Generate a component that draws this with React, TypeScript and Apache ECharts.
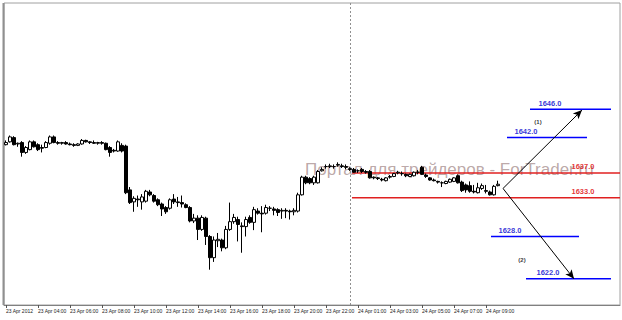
import React, { useEffect, useRef } from "react";
import * as echarts from "echarts";

// Candles: [open, high, low, close], M15 bars
const candles: number[][] = [
  [1641.0,1641.6,1640.9,1641.3],[1641.4,1642.3,1641.3,1642.1],[1642.0,1642.2,1640.9,1641.0],[1641.1,1641.3,1640.7,1641.2],
  [1641.3,1641.5,1639.3,1639.9],[1639.9,1640.8,1639.7,1640.6],[1640.3,1641.6,1640.2,1641.4],[1641.4,1641.6,1640.6,1640.7],
  [1641.0,1641.2,1640.1,1640.3],[1640.6,1641.0,1639.9,1640.5],[1640.6,1641.5,1640.5,1641.3],[1641.2,1642.3,1641.0,1642.1],
  [1642.1,1642.3,1641.2,1641.3],[1641.3,1641.5,1641.0,1641.2],[1641.2,1641.4,1641.0,1641.3],[1641.3,1641.5,1641.0,1641.1],
  [1641.1,1641.3,1640.9,1641.0],[1641.0,1641.2,1640.7,1640.9],[1640.9,1641.2,1640.8,1641.1],[1641.1,1641.8,1641.0,1641.6],
  [1641.6,1641.7,1641.3,1641.4],[1641.4,1641.5,1641.1,1641.3],[1641.3,1641.6,1641.1,1641.2],[1641.2,1641.4,1641.0,1641.3],
  [1641.3,1641.5,1641.0,1641.2],[1641.2,1641.3,1640.2,1640.3],[1640.6,1640.8,1639.3,1639.9],[1640.2,1640.4,1639.9,1640.1],
  [1640.1,1641.6,1640.0,1641.4],[1640.9,1641.2,1639.9,1640.1],[1640.8,1641.0,1634.0,1634.2],[1634.6,1635.0,1632.6,1632.8],
  [1632.9,1633.7,1631.5,1633.4],[1633.3,1633.8,1632.2,1633.2],[1632.9,1634.0,1631.8,1633.6],[1633.0,1634.6,1632.8,1634.4],
  [1634.3,1634.6,1633.7,1633.9],[1633.8,1634.0,1632.8,1633.0],[1633.2,1633.4,1632.3,1632.5],[1632.6,1632.8,1630.9,1631.9],
  [1632.1,1632.3,1631.2,1631.5],[1632.0,1633.4,1631.8,1633.2],[1633.3,1634.0,1632.6,1632.9],[1632.9,1633.6,1632.2,1632.8],
  [1632.8,1633.8,1632.1,1632.6],[1632.5,1632.7,1632.0,1632.1],[1632.1,1632.3,1630.0,1630.2],[1630.2,1631.2,1629.9,1630.6],
  [1630.6,1631.0,1627.5,1629.0],[1629.0,1631.0,1628.8,1630.7],[1630.6,1630.8,1626.8,1628.0],[1628.0,1628.2,1623.3,1625.0],
  [1625.0,1628.0,1624.4,1627.5],[1627.4,1628.5,1626.5,1627.6],[1627.5,1627.7,1625.9,1626.4],[1626.4,1629.5,1626.2,1629.0],
  [1629.0,1632.8,1628.8,1630.1],[1630.1,1631.2,1629.8,1630.7],[1630.4,1630.8,1627.3,1629.7],[1629.5,1630.0,1625.7,1629.4],
  [1629.4,1630.8,1628.0,1630.4],[1630.7,1631.0,1629.8,1630.0],[1630.0,1632.2,1628.9,1631.8],[1631.6,1632.0,1631.1,1631.3],
  [1631.3,1632.3,1628.6,1631.2],[1631.3,1632.5,1631.1,1632.1],[1632.0,1632.3,1631.6,1632.0],[1631.9,1632.2,1631.0,1631.7],
  [1631.8,1632.0,1630.9,1631.4],[1631.6,1632.0,1630.5,1631.7],[1631.7,1632.0,1630.6,1631.6],[1631.6,1631.8,1630.4,1631.5],
  [1631.5,1632.0,1631.0,1631.7],[1631.6,1634.2,1631.4,1633.9],[1633.9,1636.6,1633.8,1636.4],[1636.4,1636.6,1635.4,1635.6],
  [1636.2,1636.4,1635.4,1635.6],[1635.6,1636.6,1635.3,1636.4],[1635.6,1637.4,1635.5,1637.2],[1637.3,1637.8,1637.2,1637.5],
  [1637.9,1638.2,1637.6,1637.9],[1637.9,1638.3,1637.7,1638.0],[1637.9,1638.2,1637.6,1637.9],[1638.1,1638.5,1637.9,1638.2],
  [1638.0,1638.3,1637.7,1637.9],[1637.9,1638.2,1637.5,1637.8],[1637.6,1637.8,1637.3,1637.5],[1637.5,1637.7,1637.0,1637.1],
  [1637.3,1637.5,1637.0,1637.3],[1637.5,1637.7,1637.0,1637.2],[1637.2,1637.4,1636.9,1637.1],[1637.2,1637.4,1636.2,1636.3],
  [1636.4,1636.5,1636.1,1636.3],[1636.3,1636.4,1636.0,1636.2],[1636.1,1636.3,1635.8,1636.0],[1635.9,1636.4,1635.8,1636.3],
  [1636.4,1636.7,1636.2,1636.5],[1636.5,1637.0,1636.4,1636.9],[1637.0,1637.3,1636.8,1637.1],[1636.9,1637.2,1636.6,1636.9],
  [1636.8,1636.9,1636.4,1636.6],[1636.5,1636.9,1636.4,1636.8],[1636.6,1637.2,1636.5,1637.1],[1637.1,1637.4,1636.8,1637.1],
  [1637.8,1638.0,1636.7,1636.8],[1636.7,1636.9,1636.3,1636.5],[1636.3,1636.4,1635.9,1636.0],[1636.0,1636.2,1635.8,1635.9],
  [1635.8,1635.9,1635.5,1635.7],[1635.6,1635.8,1635.0,1635.6],[1635.5,1635.9,1635.4,1635.8],[1635.7,1636.2,1635.6,1636.1],
  [1635.8,1636.4,1635.7,1636.3],[1636.6,1636.8,1635.5,1635.6],[1635.7,1635.9,1634.3,1634.5],[1635.3,1635.5,1634.2,1634.6],
  [1635.2,1635.8,1634.2,1634.4],[1634.4,1635.3,1634.1,1634.3],[1634.2,1635.6,1634.1,1634.9],[1634.8,1635.5,1634.6,1635.2],
  [1634.5,1635.3,1634.1,1634.4],[1634.3,1634.5,1633.8,1633.9],[1633.9,1635.3,1633.8,1635.1],[1635.2,1635.9,1635.1,1635.4],
];

const slotCount = 154; // bar slots across the chart incl. empty right margin
const tickLabels = [
  "23 Apr 2012", "23 Apr 04:00", "23 Apr 06:00", "23 Apr 08:00", "23 Apr 10:00",
  "23 Apr 12:00", "23 Apr 14:00", "23 Apr 16:00", "23 Apr 18:00", "23 Apr 20:00",
  "23 Apr 22:00", "24 Apr 01:00", "24 Apr 03:00", "24 Apr 05:00", "24 Apr 07:00", "24 Apr 09:00",
];
const barsPerTick = 8;
const separatorBar = 86;

// Levels: value, start bar, end bar, label text, label bar, colour key
const levelValues = [1646, 1642, 1637, 1633.5, 1628, 1622];
const levelStarts = [131, 125.25, 86.5, 86.5, 121.25, 130];
const levelEnds = [151.25, 145.25, 153.5, 153.5, 143.25, 151.25];
const levelTexts = ["1646.0", "1642.0", "1637.0", "1633.0", "1628.0", "1622.0"];
const levelTextBars = [136, 130, 144.25, 144.25, 126, 135.5];
const levelKinds = ["target", "target", "key", "key", "target", "target"];

// Scenario arrows: start and ends
const arrowStart = [124.25, 1634.8];
const arrowEnds = [[144, 1645.9], [142, 1622.0]];
const scenarioTexts = ["(1)", "(2)"];
const scenarioPoints = [[133, 1644.2], [129, 1624.7]];

const yMin = 1618.3;
const yMax = 1661.06;

export default function App() {
  const ref = useRef<HTMLDivElement>(null);
  useEffect(() => {
    if (!ref.current) return;
    const chart = echarts.init(ref.current, undefined, { renderer: "svg" });
    const categories = Array.from({ length: slotCount }, (_, i) => "b" + i);
    const colors: Record<string, string> = { target: "#0000ff", key: "#e02020" };
    const labelColors: Record<string, string> = { target: "#0000cc", key: "#dd0000" };

    const series: any[] = [
      {
        type: "candlestick",
        xAxisIndex: 0,
        yAxisIndex: 0,
        barWidth: 3,
        z: 5,
        data: candles.map((c) => [c[0], c[3], c[2], c[1]]),
        itemStyle: {
          color: "#ffffff",
          color0: "#000000",
          borderColor: "#000000",
          borderColor0: "#000000",
          borderWidth: 1,
        },
        silent: true,
      },
    ];
    levelValues.forEach((v, i) => {
      series.push({
        type: "line",
        xAxisIndex: 1,
        yAxisIndex: 0,
        symbol: "none",
        silent: true,
        z: 3,
        lineStyle: { color: colors[levelKinds[i]], width: 1.5 },
        data: [[levelStarts[i], v], [levelEnds[i], v]],
      });
    });
    series.push({
      type: "scatter",
      xAxisIndex: 1,
      yAxisIndex: 0,
      symbolSize: 0,
      silent: true,
      z: 6,
      data: levelValues.map((v, i) => ({
        value: [levelTextBars[i], v],
        label: {
          show: true,
          position: "top",
          distance: 2,
          formatter: levelTexts[i],
          color: labelColors[levelKinds[i]],
          fontSize: 7.5,
          fontWeight: "bold",
          fontFamily: "Liberation Sans",
        },
      })),
    });
    series.push({
      type: "scatter",
      xAxisIndex: 1,
      yAxisIndex: 0,
      symbolSize: 0,
      silent: true,
      z: 6,
      data: scenarioPoints.map((p, i) => ({
        value: p,
        label: {
          show: true,
          position: "inside",
          formatter: scenarioTexts[i],
          color: "#000",
          fontSize: 6,
          fontWeight: "bold",
          fontFamily: "Liberation Sans",
        },
      })),
    });
    series.push({
      type: "line",
      xAxisIndex: 1,
      yAxisIndex: 0,
      data: [],
      silent: true,
      markLine: {
        silent: true,
        animation: false,
        symbol: ["none", "none"],
        label: { show: false },
        lineStyle: { color: "#909090", type: [2, 2], width: 1 },
        data: [{ xAxis: separatorBar }],
      },
    });
    series.push({
      type: "line",
      xAxisIndex: 1,
      yAxisIndex: 0,
      data: [],
      silent: true,
      z: 7,
      markLine: {
        silent: true,
        animation: false,
        symbol: ["none", "arrow"],
        symbolSize: [6, 9],
        label: { show: false },
        lineStyle: { color: "#000000", type: "solid", width: 1 },
        data: arrowEnds.map((e) => [{ coord: arrowStart }, { coord: e }]),
      },
    });

    chart.setOption({
      animation: false,
      backgroundColor: "#ffffff",
      grid: {
        left: 4,
        right: 2,
        top: 3,
        bottom: 15,
        show: true,
        borderColor: "#a0a0a0",
        borderWidth: 1,
        backgroundColor: "transparent",
      },
      graphic: [
        {
          type: "text",
          z: 1,
          silent: true,
          style: {
            x: 305,
            y: 169,
            text: "Портал для трейдеров - ForTrader.ru",
            font: "17px 'Liberation Sans'",
            fill: "rgba(150,120,120,0.65)",
            verticalAlign: "middle",
          },
        },
        {
          type: "line",
          silent: true,
          shape: { x1: 3.5, y1: 3, x2: 3.5, y2: 305 },
          style: { stroke: "#909090", lineWidth: 2 },
        },
      ],
      xAxis: [
        {
          type: "category",
          data: categories,
          boundaryGap: true,
          axisLine: { show: true, lineStyle: { color: "#808080", width: 1 } },
          axisTick: {
            show: true,
            interval: (i: number) => i % barsPerTick === 0 && i / barsPerTick < tickLabels.length,
            length: 3,
            inside: false,
            alignWithLabel: true,
            lineStyle: { color: "#555" },
          },
          axisLabel: {
            show: true,
            interval: (i: number) => i % barsPerTick === 0 && i / barsPerTick < tickLabels.length,
            formatter: (_v: string, i: number) => tickLabels[i / barsPerTick] ?? "",
            align: "left",
            margin: 3,
            fontSize: 5,
            color: "#222",
            fontFamily: "Liberation Sans",
          },
          splitLine: { show: false },
        },
        {
          type: "value",
          min: -0.5,
          max: slotCount - 0.5,
          show: false,
          splitLine: { show: false },
        },
      ],
      yAxis: {
        type: "value",
        min: yMin,
        max: yMax,
        show: false,
        splitLine: { show: false },
      },
      series,
    });
    return () => chart.dispose();
  }, []);
  return (
    <div
      ref={ref}
      style={{ position: "absolute", left: 0, top: 0, width: 622, height: 320, background: "#fff" }}
    />
  );
}
